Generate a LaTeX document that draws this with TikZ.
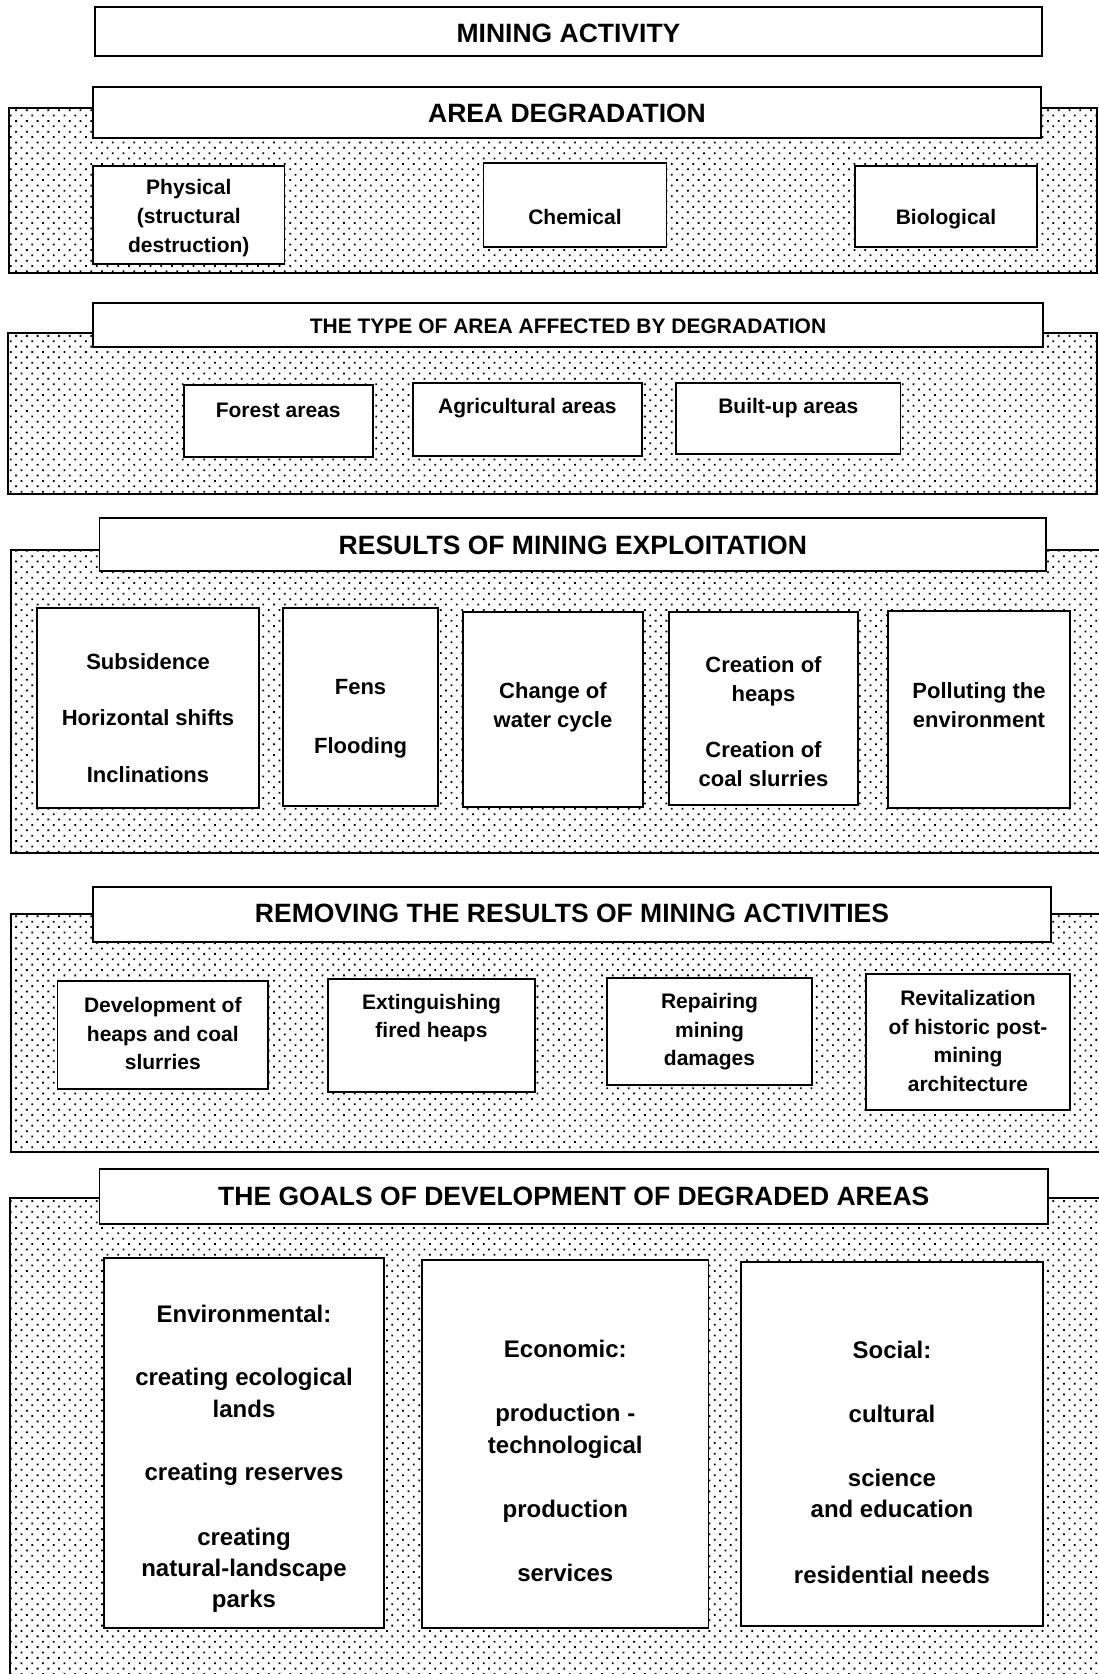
\documentclass[tikz,border=0pt]{standalone}
\usepackage{fontspec}
\setmainfont{Liberation Sans}
\usetikzlibrary{patterns.meta}

\begin{document}
\begin{tikzpicture}[x=1pt, y=-1pt,
    panel/.style={draw, line width=2pt, pattern={Dots[radius=1.25pt, distance=7.6pt, angle=45]}, pattern color=black},
    plainbox/.style={draw, line width=1.8pt, fill=white},
    headline/.style={font=\bfseries\fontsize{26.5}{32}\selectfont},
    subheadline/.style={font=\bfseries\fontsize{21}{26}\selectfont},
    itemtext/.style={align=center, font=\bfseries\fontsize{21}{28.6}\selectfont},
    resulttext/.style={align=center, font=\bfseries\fontsize{22}{28.8}\selectfont},
    goaltext/.style={align=center, font=\bfseries\fontsize{24}{31.4}\selectfont}]
    \useasboundingbox (0,0) rectangle (1099,1674);
    \fill[white] (0,0) rectangle (1099,1674);

    % mining activity
    \draw[plainbox] (95,7) rectangle (1042,56);
    \node[headline] (mining) at (568.5,33) {MINING ACTIVITY};

    % area degradation
    \draw[panel] (8.5,108) rectangle (1097,273);
    \draw[plainbox] (93,87) rectangle (1041,138);
    \node[headline] (degradation) at (567,113) {AREA DEGRADATION};
    \draw[plainbox] (93,166) rectangle (284.5,264);
    \node[itemtext] (physical) at (188.8,218) {Physical\\(structural\\destruction)};
    \draw[plainbox] (483.5,163) rectangle (666.4,247);
    \node[itemtext] (chemical) at (575,217) {Chemical};
    \draw[plainbox] (855,166) rectangle (1037,247);
    \node[itemtext] (biological) at (946,219) {Biological};

    % type of area
    \draw[panel] (8,333) rectangle (1097,494);
    \draw[plainbox] (93,303) rectangle (1043,347);
    \node[subheadline] (areatype) at (568,326) {THE TYPE OF AREA AFFECTED BY DEGRADATION};
    \draw[plainbox] (183.6,385) rectangle (372.8,457);
    \node[itemtext] (forest) at (278.2,410) {Forest areas};
    \draw[plainbox] (412.8,383) rectangle (642,456);
    \node[itemtext] (agricultural) at (527.4,408) {Agricultural areas};
    \draw[plainbox] (676,383) rectangle (900.5,454);
    \node[itemtext] (builtup) at (788.3,408) {Built-up areas};

    % results of exploitation
    \draw[panel] (10.5,550) rectangle (1110,853);
    \draw[plainbox] (99.5,518) rectangle (1046,571);
    \node[headline] (results) at (572.8,545) {RESULTS OF MINING EXPLOITATION};
    \draw[plainbox] (37,608) rectangle (259,808);
    \node[resulttext] (subsidence) at (148,718) {Subsidence\\[28pt]Horizontal shifts\\[28pt]Inclinations};
    \draw[plainbox] (283,608) rectangle (438,806);
    \node[resulttext] (fens) at (360.5,718.5) {Fens\\[30pt]Flooding};
    \draw[plainbox] (463,612) rectangle (643,807);
    \node[resulttext] (watercycle) at (553,707.5) {Change of\\water cycle};
    \draw[plainbox] (669,612) rectangle (858,805);
    \node[resulttext] (heaps) at (763.5,721.5) {Creation of\\heaps\\[27pt]Creation of\\coal slurries};
    \draw[plainbox] (888,611) rectangle (1070,808);
    \node[resulttext] (polluting) at (979,705.5) {Polluting the\\environment};

    % removing the results
    \draw[panel] (10.5,914) rectangle (1110,1152);
    \draw[plainbox] (93,887) rectangle (1051,942);
    \node[headline] (removing) at (572,913) {REMOVING THE RESULTS OF MINING ACTIVITIES};
    \draw[plainbox] (57.5,981) rectangle (268,1089);
    \node[itemtext] (development) at (162.8,1033.5) {Development of\\heaps and coal\\slurries};
    \draw[plainbox] (328,979) rectangle (535,1092);
    \node[itemtext] (extinguishing) at (431.5,1018) {Extinguishing\\fired heaps};
    \draw[plainbox] (607,978) rectangle (812,1085);
    \node[itemtext] (repairing) at (709.5,1032) {Repairing\\mining\\damages};
    \draw[plainbox] (866,974) rectangle (1070,1110);
    \node[itemtext] (revitalization) at (968,1041) {Revitalization\\of historic post-\\mining\\architecture};

    % goals of development
    \draw[panel] (10,1198) rectangle (1110,1690);
    \draw[plainbox] (99.5,1169) rectangle (1048,1224);
    \node[headline] (goals) at (573.8,1196) {THE GOALS OF DEVELOPMENT OF DEGRADED AREAS};
    \draw[plainbox] (104,1258) rectangle (384,1628);
    \node[goaltext] (environmental) at (244,1459) {Environmental:\\[32pt]creating ecological\\lands\\[32pt]creating reserves\\[33pt]creating\\natural-landscape\\parks};
    \draw[plainbox] (422,1260) rectangle (708.5,1628);
    \node[goaltext] (economic) at (565.3,1461) {Economic:\\[33pt]production -\\technological\\[33pt]production\\[33pt]services};
    \draw[plainbox] (741,1262) rectangle (1043,1626);
    \node[goaltext] (social) at (892,1462.5) {Social:\\[32pt]cultural\\[33pt]science\\and education\\[34pt]residential needs};
\end{tikzpicture}
\end{document}
